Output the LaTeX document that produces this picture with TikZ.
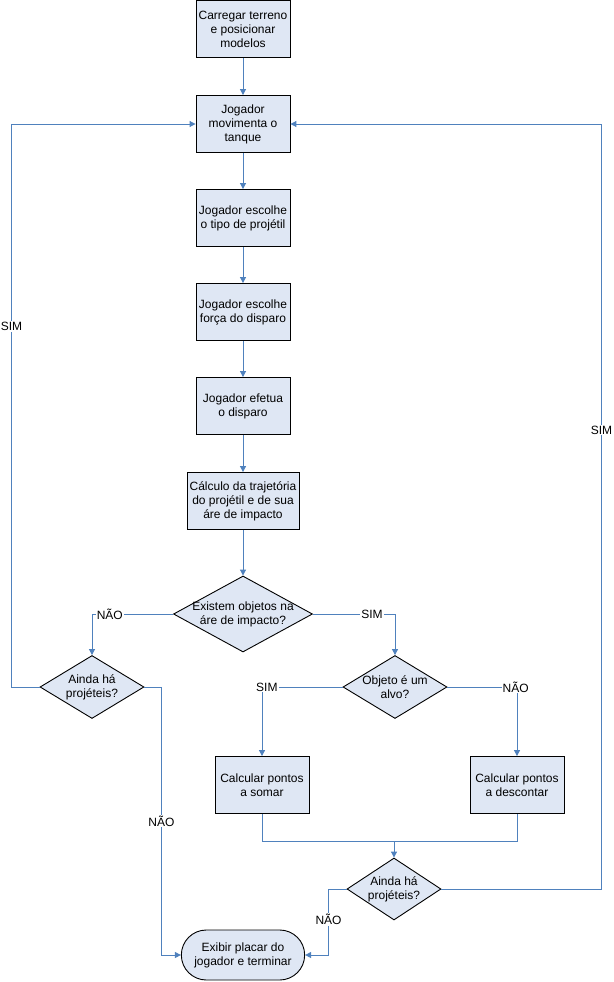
\documentclass[tikz,border=0pt]{standalone}
\usepackage{fontspec}
\setmainfont{Liberation Sans}
\usetikzlibrary{positioning, shapes.geometric, shapes.misc, arrows.meta}
\definecolor{seta}{RGB}{79,129,189}
\definecolor{caixa}{RGB}{223,231,244}

\begin{document}
\begin{tikzpicture}[
          x=1pt, y=-1pt,
          every node/.style={font=\fontsize{12}{14}\selectfont, align=center},
          proc/.style={rectangle,draw,line width=0.9pt,fill=caixa,minimum width=94pt,minimum height=57pt,inner sep=2pt},
          dec/.style={diamond,draw,line width=0.9pt,fill=caixa,inner sep=0pt},
          fim/.style={rounded rectangle,draw,line width=0.9pt,fill=caixa,minimum width=130pt,minimum height=50pt},
          arr/.style={draw=seta,line width=1pt,-{Triangle[length=6pt,width=6pt]}},
          lin/.style={draw=seta,line width=1pt},
          lbl/.style={fill=white,inner sep=1pt}
        ]
        \useasboundingbox (0,0) rectangle (613,982);
        % caixas de processo
        \node[proc] (b1) at (243,29) {Carregar terreno\\e posicionar\\modelos};
        \node[proc] (b2) at (243,124) {Jogador\\movimenta o\\tanque};
        \node[proc] (b3) at (243,218) {Jogador escolhe\\o tipo de projétil};
        \node[proc] (b4) at (243,312) {Jogador escolhe\\força do disparo};
        \node[proc] (b5) at (243,406) {Jogador efetua\\o disparo};
        \node[proc,minimum width=112pt] (b6) at (243,501) {Cálculo da trajetória\\do projétil e de sua\\áre de impacto};
        % decisoes
        \node[dec,minimum width=139pt,minimum height=76pt,label={[align=center]center:Existem objetos na\\áre de impacto?}] (d7) at (243,614) {};
        \node[dec,minimum width=104pt,minimum height=63pt,label={[align=center]center:Ainda há\\projéteis?}] (d8) at (92,687) {};
        \node[dec,minimum width=104pt,minimum height=63pt,label={[align=center]center:Objeto é um\\alvo?}] (d9) at (395,687) {};
        \node[proc] (b10) at (262,785) {Calcular pontos\\a somar};
        \node[proc] (b11) at (517,785) {Calcular pontos\\a descontar};
        \node[dec,minimum width=94pt,minimum height=62pt,label={[align=center]center:Ainda há\\projéteis?}] (d12) at (394,889) {};
        \node[fim] (t13) at (243,955) {Exibir placar do\\jogador e terminar};
        % ligacoes
        \foreach\a/\b in {b1/b2,b2/b3,b3/b4,b4/b5,b5/b6,b6/d7}{\draw[arr] (\a) -- (\b);}
        \draw[arr] (d7.west) -| node[lbl,pos=0.39]{NÃO} (d8.north);
        \draw[arr] (d7.east) -| node[lbl,pos=0.36]{SIM} (d9.north);
        \draw[arr] (d9.west) -| node[lbl,pos=0.47]{SIM} (b10.north);
        \draw[arr] (d9.east) -| node[lbl,pos=0.49]{NÃO} (b11.north);
        \draw[arr] (d8.west) -- ++(-28,0) |- node[lbl,pos=0.32]{SIM} (b2.west);
        \draw[arr] (d8.east) -- ++(17,0) |- node[lbl,pos=0.25]{NÃO} (t13.west);
        \coordinate (mrg) at (d12.north |- 0,841);
        \draw[lin] (b10.south) |- (mrg) -| (b11.south);
        \draw[arr] (mrg) -- (d12.north);
        \draw[arr] (d12.east) -- ++(160,0) |- node[lbl,pos=0.3]{SIM} (b2.east);
        \draw[arr] (d12.west) -- ++(-18,0) |- node[lbl,pos=0.23]{NÃO} (t13.east);
      \end{tikzpicture}
\end{document}
